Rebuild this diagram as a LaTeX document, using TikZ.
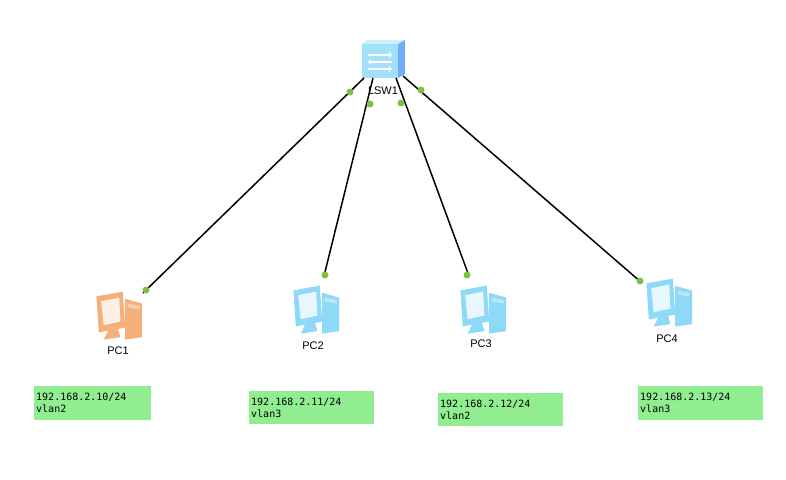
\documentclass[tikz,border=0pt]{standalone}
\usepackage{fontspec}
\setsansfont{Liberation Sans}
\setmonofont{DejaVu Sans Mono}
\definecolor{notegreen}{HTML}{90EE90}
\definecolor{dotgreen}{HTML}{7CC242}
\definecolor{pcb}{HTML}{8ED8F8}
\definecolor{pco}{HTML}{F5B07A}
\begin{document}
\begin{tikzpicture}[x=1pt,y=-1pt,
  link/.style={line width=1.5pt,black},
  dot/.style={circle,fill=dotgreen,inner sep=0pt,minimum size=7pt},
  lbl/.style={font=\sffamily\fontsize{11}{12}\selectfont},
  note/.style={fill=notegreen,font=\ttfamily\fontsize{10}{12}\selectfont,align=left,anchor=north west,inner sep=2pt,text width=#1},
  pc/.pic={
    \begin{scope}[scale=1.2]
    \fill[pic actions,draw=none] (6,-16) -- (20,-12) -- (20,16) -- (6,18) -- cycle;
    \fill[white,opacity=.4] (8,-12) -- (18,-10) -- (18,-7) -- (8,-9)--cycle;
    \fill[pic actions] (-18,-18) -- (4,-22) -- (6,8) -- (-16,12) -- cycle;
    \fill[white,opacity=.8] (-14,-14) -- (1,-17) -- (2,3) -- (-12,6) -- cycle;
    \fill[pic actions] (-8,10) -- (0,9) -- (2,16) -- (-12,18) -- cycle;
    \end{scope}
  }]
\useasboundingbox (0,0) rectangle (786,479);
% switch
\node[inner sep=0pt,minimum width=36pt,minimum height=36pt] (sw) at (380,60) {};
\fill[cyan!20] (362,44) -- (367,40) -- (405,40) -- (398,44) -- cycle;
\fill[pcb!80!blue] (398,44) -- (405,40) -- (405,74) -- (398,78) -- cycle;
\fill[pcb!80] (362,44) rectangle (398,78);
\draw[white,line width=1.2pt,->] (368,55) -- (392,55);
\draw[white,line width=1.2pt,<-] (368,62) -- (392,62);
\draw[white,line width=1.2pt,->] (368,69) -- (392,69);
\node[lbl] (swl) at (383,91) {LSW1};
% pcs
\pic[fill=pco] at (118,318) {pc};
\pic[fill=pcb] at (315,312) {pc};
\pic[fill=pcb] at (482,312) {pc};
\pic[fill=pcb] at (668,305) {pc};
\coordinate (p1) at (143,293);
\coordinate (p2) at (324,276);
\coordinate (p3) at (469,276);
\coordinate (p4) at (642,283);
\coordinate (s1) at (364,78);
\coordinate (s2) at (373,78);
\coordinate (s3) at (396,78);
\coordinate (s4) at (403,76);
\draw[link] (s1) -- (p1);
\draw[link] (s2) -- (p2);
\draw[link] (s3) -- (p3);
\draw[link] (s4) -- (p4);
\node[dot] (d1) at (350,92) {};
\node[dot] (d2) at (370,104) {};
\node[dot] (d3) at (401,103) {};
\node[dot] (d4) at (421,90) {};
\node[dot] (e1) at (146,290) {};
\node[dot] (e2) at (325,275) {};
\node[dot] (e3) at (467,275) {};
\node[dot] (e4) at (640,281) {};
\node[lbl] (l1) at (118,351) {PC1};
\node[lbl] (l2) at (313,346) {PC2};
\node[lbl] (l3) at (481,344) {PC3};
\node[lbl] (l4) at (667,339) {PC4};
\node[note=113pt,minimum height=34pt] (n1) at (34,386) {192.168.2.10/24\\vlan2};
\node[note=121pt,minimum height=33pt] (n2) at (249,391) {192.168.2.11/24\\vlan3};
\node[note=121pt,minimum height=33pt] (n3) at (438,393) {192.168.2.12/24\\vlan2};
\node[note=121pt,minimum height=34pt] (n4) at (638,386) {192.168.2.13/24\\vlan3};
\end{tikzpicture}
\end{document}
